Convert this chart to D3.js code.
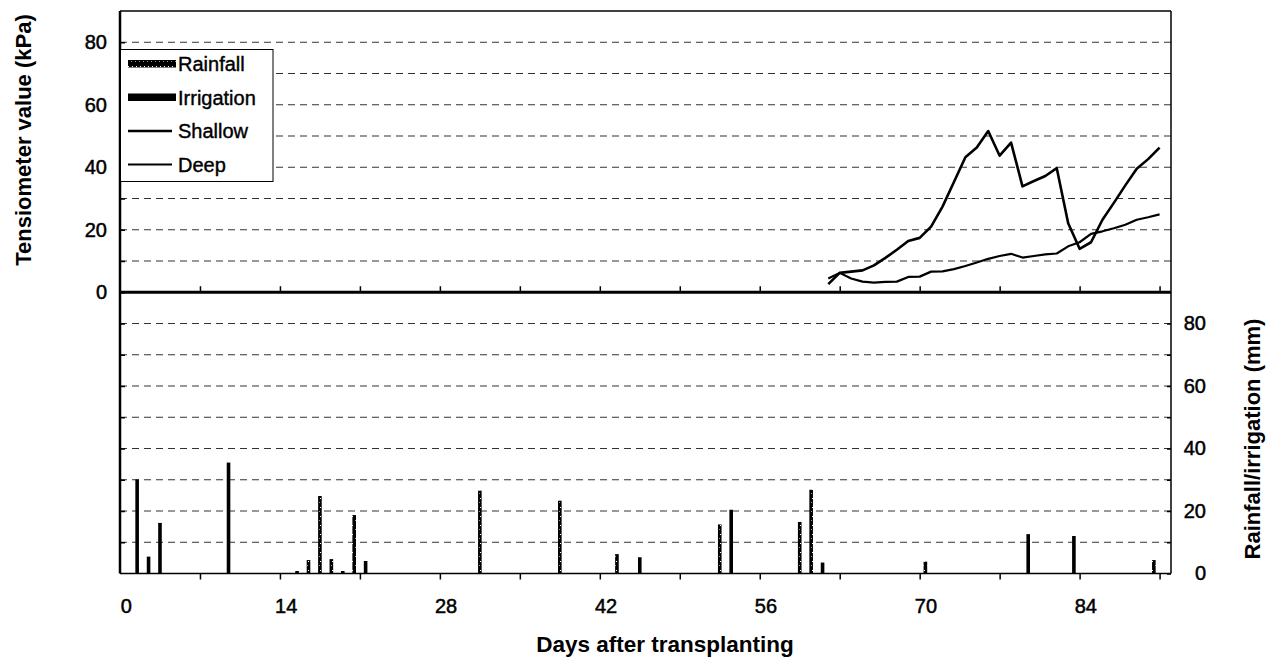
<!DOCTYPE html>
<html>
<head>
<meta charset="utf-8">
<script src="https://cdn.jsdelivr.net/npm/d3@7"></script>
<style>
  html, body { margin: 0; padding: 0; background: #fff; }
  svg { display: block; font-family: Arial, "Liberation Sans", sans-serif; }
</style>
</head>
<body>
<svg id="chart" width="1276" height="660"></svg>
<script>
// Tensiometer readings (kPa), one per day
const tensDays = d3.range(62, 92);
const shallow = [2.6, 6.2, 6.6, 7.0, 8.6, 11.0, 13.6, 16.4, 17.4, 21.0,
                 27.4, 35.3, 43.2, 46.3, 51.6, 43.7, 47.9, 33.9, 35.6, 37.2,
                 39.7, 22.1, 13.9, 16.0, 23.2, 28.6, 34.2, 39.5, 42.6, 46.3];
const deep = [4.4, 6.2, 4.4, 3.4, 3.1, 3.3, 3.4, 4.9, 5.0, 6.6,
              6.7, 7.4, 8.4, 9.5, 10.7, 11.6, 12.3, 11.1, 11.6, 12.1,
              12.4, 14.7, 16.0, 18.7, 19.5, 20.5, 21.6, 23.2, 24.0, 24.9];

// Water inputs (mm)
const rainDays = [15, 16, 17, 18, 19, 20, 31, 38, 43, 52, 59, 60, 70, 90];
const rainMm   = [0.8, 4.3, 24.8, 4.6, 0.8, 18.7, 26.5, 23.3, 6.2, 15.7, 16.5, 26.8, 3.8, 4.3];
const irrDays  = [1, 2, 3, 9, 21, 45, 53, 61, 79, 83];
const irrMm    = [30.1, 5.4, 16.2, 35.5, 4.0, 5.2, 20.4, 3.5, 12.6, 12.0];

// Axis ticks
const dayLabels = [0, 14, 28, 42, 56, 70, 84];
const dayTicks = d3.range(7, 92, 7);
const tensLabels = [0, 20, 40, 60, 80];
const rainLabels = [0, 20, 40, 60, 80];
const legendItems = ["Rainfall", "Irrigation", "Shallow", "Deep"];

const svg = d3.select("#chart");
const L = 120, R = 1171, T = 11, B = 573.5;

// day boundaries (lines, ticks) and day centres (bars, labels)
const x = d3.scaleLinear().domain([0, 92]).range([L, R]);
const xc = d3.scaleLinear().domain([-0.5, 91.5]).range([L, R]);
// tensiometer axis spans -90..90 with the zero line in the middle
const yT = d3.scaleLinear().domain([-90, 90]).range([B, T]);
// rainfall axis spans 0..180 so its 0..90 fills the lower half
const yR = d3.scaleLinear().domain([0, 180]).range([B, T]);

// speckled black fill for rainfall
const defs = svg.append("defs");
const pat = defs.append("pattern").attr("id", "rainTex")
  .attr("width", 4).attr("height", 9).attr("patternUnits", "userSpaceOnUse");
pat.append("rect").attr("width", 4).attr("height", 9).attr("fill", "#000");
pat.append("rect").attr("x", 0).attr("y", 3).attr("width", 1).attr("height", 1).attr("fill", "#fff");
pat.append("rect").attr("x", 3).attr("y", 7).attr("width", 1).attr("height", 1).attr("fill", "#999");

// dashed gridlines
const grid = svg.append("g").attr("stroke", "#333").attr("stroke-width", 1)
  .attr("stroke-dasharray", "7,5");
d3.range(10, 81, 10).forEach(v => {
  grid.append("line").attr("x1", L).attr("x2", R).attr("y1", yT(v)).attr("y2", yT(v));
  grid.append("line").attr("x1", L).attr("x2", R).attr("y1", yR(v)).attr("y2", yR(v));
});

// bars
const barW = 3.6;
svg.append("g").selectAll("rect").data(irrDays.map((d, i) => [d, irrMm[i]])).join("rect")
  .attr("x", d => xc(d[0]) - barW / 2).attr("width", barW)
  .attr("y", d => yR(d[1])).attr("height", d => yR(0) - yR(d[1]))
  .attr("fill", "#000");
svg.append("g").selectAll("rect").data(rainDays.map((d, i) => [d, rainMm[i]])).join("rect")
  .attr("x", d => xc(d[0]) - barW / 2).attr("width", barW)
  .attr("y", d => yR(d[1])).attr("height", d => yR(0) - yR(d[1]))
  .attr("fill", "url(#rainTex)");

// frame
svg.append("line").attr("x1", L).attr("x2", R).attr("y1", T).attr("y2", T)
  .attr("stroke", "#000").attr("stroke-width", 1.5);
svg.append("line").attr("x1", R).attr("x2", R).attr("y1", T).attr("y2", B)
  .attr("stroke", "#000").attr("stroke-width", 1.5);
svg.append("line").attr("x1", L).attr("x2", R).attr("y1", B).attr("y2", B)
  .attr("stroke", "#000").attr("stroke-width", 1.5);
svg.append("line").attr("x1", L).attr("x2", L).attr("y1", T).attr("y2", B)
  .attr("stroke", "#000").attr("stroke-width", 2.5);

// zero line of the tensiometer axis
svg.append("line").attr("x1", L).attr("x2", R).attr("y1", yT(0)).attr("y2", yT(0))
  .attr("stroke", "#000").attr("stroke-width", 3);

function styleAxis(g) {
  g.select(".domain").remove();
  g.selectAll(".tick line").attr("stroke", "#000").attr("stroke-width", 1.5);
  g.selectAll("text").attr("fill", "#000").attr("font-size", 20)
    .attr("stroke", "#000").attr("stroke-width", 0.5);
}

// tick marks
svg.append("g").attr("transform", `translate(0,${B})`)
  .call(d3.axisBottom(x).tickValues(dayTicks).tickSize(6).tickFormat(""))
  .call(styleAxis);
svg.append("g").attr("transform", `translate(0,${yT(0)})`)
  .call(d3.axisTop(x).tickValues(dayTicks).tickSize(6).tickFormat(""))
  .call(styleAxis);
svg.append("g").attr("transform", `translate(${L},0)`)
  .call(d3.axisRight(yT).tickValues(d3.range(-80, 81, 10)).tickSize(5).tickFormat(""))
  .call(styleAxis);
svg.append("g").attr("transform", `translate(${R},0)`)
  .call(d3.axisLeft(yR).tickValues(d3.range(0, 81, 10)).tickSize(4).tickFormat(""))
  .call(styleAxis);

// tick labels
svg.append("g").attr("transform", `translate(0,${B})`)
  .call(d3.axisBottom(xc).tickValues(dayLabels).tickSize(0).tickPadding(25))
  .call(styleAxis);
svg.append("g").attr("transform", `translate(${L},0)`)
  .call(d3.axisLeft(yT).tickValues(tensLabels).tickSize(0).tickPadding(13))
  .call(styleAxis);
svg.append("g").attr("transform", `translate(${R},0)`)
  .call(d3.axisRight(yR).tickValues(rainLabels).tickSize(0).tickPadding(35))
  .call(styleAxis)
  .call(g => g.selectAll("text").attr("text-anchor", "end"));

// tensiometer lines
const line = vals => d3.line().x((d, i) => x(tensDays[i])).y(d => yT(d))(vals);
svg.append("path").attr("d", line(deep)).attr("fill", "none")
  .attr("stroke", "#000").attr("stroke-width", 2.2).attr("stroke-linejoin", "round");
svg.append("path").attr("d", line(shallow)).attr("fill", "none")
  .attr("stroke", "#000").attr("stroke-width", 2.6).attr("stroke-linejoin", "round");

// axis titles
svg.append("text").attr("transform", "translate(23,140) rotate(-90)")
  .attr("text-anchor", "middle").attr("dy", "0.35em")
  .attr("font-size", 22).attr("font-weight", "bold").text("Tensiometer value (kPa)");
svg.append("text").attr("transform", "translate(1252,439) rotate(-90)")
  .attr("text-anchor", "middle").attr("dy", "0.35em")
  .attr("font-size", 22).attr("font-weight", "bold").text("Rainfall/irrigation (mm)");
svg.append("text").attr("x", 665).attr("y", 652)
  .attr("text-anchor", "middle")
  .attr("font-size", 22.5).attr("font-weight", "bold").text("Days after transplanting");

// legend
const lg = svg.append("g");
lg.append("rect").attr("x", 120.5).attr("y", 49.5).attr("width", 152.5).attr("height", 132)
  .attr("fill", "#fff").attr("stroke", "#000").attr("stroke-width", 1);
legendItems.forEach((name, i) => {
  const cy = 64 + i * 33.5;
  if (i === 0) {
    lg.append("rect").attr("x", 128).attr("y", cy - 4).attr("width", 48).attr("height", 7.5)
      .attr("fill", "url(#rainTex)");
  } else if (i === 1) {
    lg.append("rect").attr("x", 128).attr("y", cy - 4).attr("width", 48).attr("height", 7.5)
      .attr("fill", "#000");
  } else {
    lg.append("line").attr("x1", 128).attr("x2", 172).attr("y1", cy).attr("y2", cy)
      .attr("stroke", "#000").attr("stroke-width", i === 2 ? 2.6 : 2.2);
  }
  lg.append("text").attr("x", 178).attr("y", cy).attr("dy", "0.35em")
    .attr("font-size", 20).attr("stroke", "#000").attr("stroke-width", 0.4).text(name);
});
</script>
</body>
</html>
